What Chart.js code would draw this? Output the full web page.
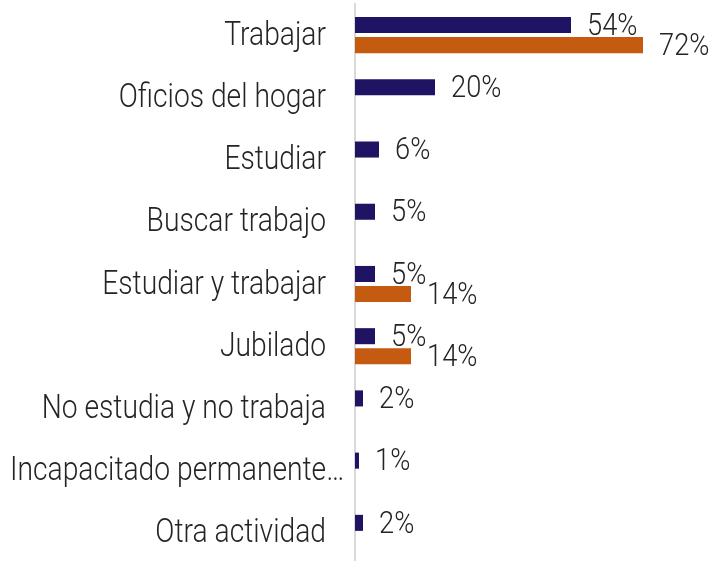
<!DOCTYPE html>
<html>
<head>
<meta charset="utf-8">
<script src="https://cdn.jsdelivr.net/npm/chart.js@4.4.1/dist/chart.umd.min.js"></script>
<style>
  html, body { margin: 0; padding: 0; background: #fff; overflow: hidden; }
  #wrap { width: 715px; height: 564px; }
</style>
</head>
<body>
<div id="wrap"><canvas id="c"></canvas></div>
<script>
// ── Data ──────────────────────────────────────────────────────────────────────
const categories = [
  'Trabajar',
  'Oficios del hogar',
  'Estudiar',
  'Buscar trabajo',
  'Estudiar y trabajar',
  'Jubilado',
  'No estudia y no trabaja',
  'Incapacitado permanente…',
  'Otra actividad'
]
const serie1 = [54, 20, 6, 5, 5, 5, 2, 1, 2]
const serie2 = [72, null, null, null, 14, 14, null, null, null]

// ── Style ─────────────────────────────────────────────────────────────────────
const NAVY = '#1f1463'
const ORANGE = '#c55a11'
const TEXT_COLOR = '#252423'
// the original uses a condensed face, so the glyphs get narrowed a bit
const LABEL_FONT = { font: '300 34px Roboto', squeeze: 0.83 }
const VALUE_FONT = { font: '300 31px Roboto', squeeze: 0.88 }

function drawSqueezed(ctx, text, x, y, align, f) {
  ctx.save()
  ctx.font = f.font
  ctx.fillStyle = TEXT_COLOR
  ctx.textBaseline = 'middle'
  ctx.textAlign = align
  ctx.translate(x, y)
  ctx.scale(f.squeeze, 1)
  ctx.fillText(text, 0, 0)
  ctx.restore()
}

// category labels on the left, right aligned, kept inside the canvas
const categoryLabels = {
  id: 'categoryLabels',
  afterDraw(chart) {
    const { ctx } = chart
    const yScale = chart.scales.y
    const right = yScale.right - 29
    ctx.save()
    ctx.font = LABEL_FONT.font
    categories.forEach((cat, i) => {
      const w = ctx.measureText(cat).width * LABEL_FONT.squeeze
      const x = Math.max(right, 10 + w)
      drawSqueezed(ctx, cat, x, yScale.getPixelForValue(i) + 1, 'right', LABEL_FONT)
    })
    ctx.restore()
  }
}

// value labels at the end of each bar
const valueLabels = {
  id: 'valueLabels',
  afterDatasetsDraw(chart) {
    const { ctx } = chart
    chart.data.datasets.forEach((ds, di) => {
      chart.getDatasetMeta(di).data.forEach((bar, i) => {
        const v = ds.data[i]
        if (v == null) return
        drawSqueezed(ctx, `${v}%`, bar.x + 16, bar.y + 2, 'left', VALUE_FONT)
      })
    })
  }
}

new Chart(document.getElementById('c'), {
  type: 'bar',
  data: {
    labels: categories,
    datasets: [
      { label: 'Serie 1', data: serie1, backgroundColor: NAVY, categoryPercentage: 0.645, barPercentage: 0.8 },
      { label: 'Serie 2', data: serie2, backgroundColor: ORANGE, categoryPercentage: 0.645, barPercentage: 0.8 }
    ]
  },
  options: {
    indexAxis: 'y',
    responsive: true,
    maintainAspectRatio: false,
    animation: false,
    layout: { padding: { top: 4, right: 0, bottom: 0, left: 0 } },
    plugins: {
      legend: { display: false },
      tooltip: { enabled: false }
    },
    scales: {
      x: { display: false, min: 0, max: 90 },
      y: {
        grid: { display: false },
        border: { display: true, color: '#d9d9d9', width: 2 },
        ticks: { display: false },
        afterFit: s => { s.width = 355 }
      }
    }
  },
  plugins: [categoryLabels, valueLabels]
})
</script>
</body>
</html>
